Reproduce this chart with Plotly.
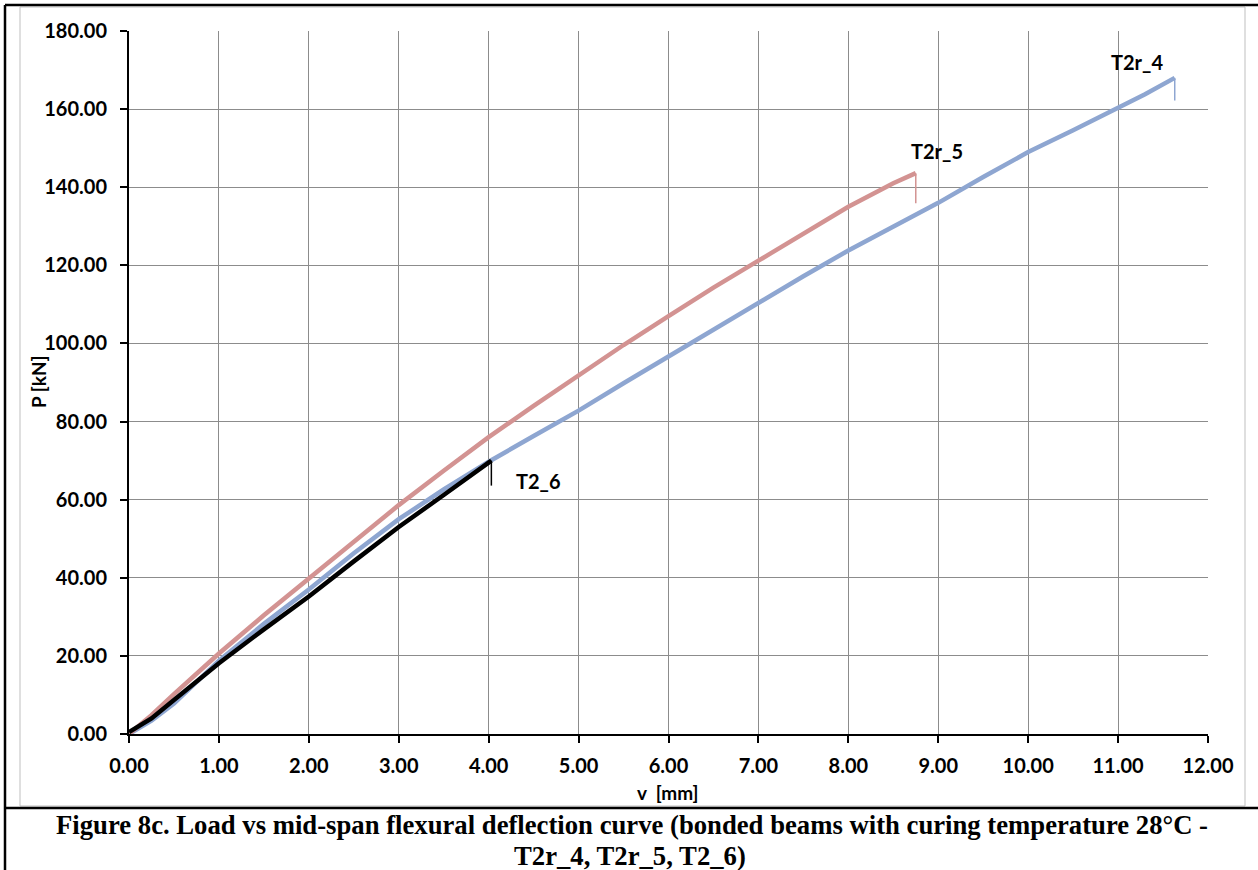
import plotly.graph_objects as go

# Mid-span deflection v [mm] and load P [kN] for the three bonded beams
v_t2r4 = [0.0, 0.25, 0.5, 0.75, 1.0, 1.5, 2.0, 2.5, 3.0, 3.5, 4.0, 4.5, 5.0, 5.5,
          6.0, 6.5, 7.0, 7.5, 8.0, 8.5, 9.0, 9.5, 10.0, 10.5, 11.0, 11.3, 11.63]
p_t2r4 = [0.0, 3.4, 7.8, 13.2, 18.8, 28.2, 37.0, 46.3, 55.0, 62.6, 69.7, 76.3, 82.8, 89.8,
          96.7, 103.6, 110.4, 117.2, 123.8, 130.0, 136.0, 142.6, 149.0, 154.6, 160.2, 163.8, 168.0]

v_t2r5 = [0.0, 0.25, 0.5, 0.75, 1.0, 1.5, 2.0, 2.5, 3.0, 3.5, 4.0, 4.5, 5.0, 5.5,
          6.0, 6.5, 7.0, 7.5, 8.0, 8.5, 8.75]
p_t2r5 = [0.0, 4.8, 10.2, 15.5, 20.6, 30.4, 39.8, 49.4, 58.6, 67.4, 76.0, 84.0, 91.8, 99.6,
          107.0, 114.3, 121.2, 128.2, 135.0, 141.0, 143.6]

v_t26 = [0.0, 0.25, 0.5, 0.75, 1.0, 1.5, 2.0, 2.5, 3.0, 3.5, 4.03]
p_t26 = [0.5, 4.0, 8.7, 13.4, 18.1, 26.8, 35.2, 44.2, 53.0, 61.2, 70.0]

# Load drop recorded at failure (last deflection, peak load -> residual load)
drop_v = {"T2r_4": 11.63, "T2r_5": 8.75, "T2_6": 4.03}
drop_p = {"T2r_4": [168.0, 162.2], "T2r_5": [143.6, 135.9], "T2_6": [70.0, 63.6]}

# Curve labels placed beside the failure points
label_text = ["T2r_4", "T2r_5", "T2_6"]
label_v = [11.21, 8.99, 4.55]
label_p = [172.0, 149.2, 64.7]

x_ticks = [0, 1, 2, 3, 4, 5, 6, 7, 8, 9, 10, 11, 12]
y_ticks = [0, 20, 40, 60, 80, 100, 120, 140, 160, 180]

BLUE = "#8EA6D1"
RED = "#D39392"
BLACK = "#000000"

W, H = 1258, 870
ML, MR, MT, MB = 129, 50, 31, 136
PW, PH = W - ML - MR, H - MT - MB


def px(x):
    return (x - ML) / PW


def py(y):
    return (H - MB - y) / PH


SANS = "Lato"
SERIF = "Liberation Serif"

fig = go.Figure()

series = [
    ("T2r_4", v_t2r4, p_t2r4, BLUE),
    ("T2r_5", v_t2r5, p_t2r5, RED),
    ("T2_6", v_t26, p_t26, BLACK),
]
for name, xs, ys, col in series:
    fig.add_trace(go.Scatter(x=xs, y=ys, mode="lines", name=name,
                             line=dict(color=col, width=4.5), showlegend=False))
    fig.add_trace(go.Scatter(x=[drop_v[name]] * 2, y=drop_p[name], mode="lines",
                             line=dict(color=col, width=1.5), showlegend=False))

for t, xv, yv in zip(label_text, label_v, label_p):
    fig.add_annotation(x=xv, y=yv, text=t, showarrow=False,
                       xanchor="center", yanchor="middle",
                       font=dict(family=SANS, size=20, color="black", weight="bold"))


def paper_text(x, y, text, font, angle=0):
    fig.add_annotation(xref="paper", yref="paper", x=px(x), y=py(y), text=text,
                       textangle=angle, showarrow=False,
                       xanchor="center", yanchor="middle", font=font)


# Axis titles
title_font = dict(family=SANS, size=19, color="black", weight="bold")
paper_text(38, 382, "P [kN]", title_font, angle=-90)
paper_text(668, 792, "v  [mm]", title_font)

# Figure caption
cap_font = dict(family=SERIF, size=26.7, color="black", weight="bold")
paper_text(632, 825, ("Figure 8c. Load vs mid-span flexural deflection curve (bonded beams "
                      "with curing temperature 28°C -"), cap_font)
paper_text(630, 856, "T2r_4, T2r_5, T2_6)", cap_font)

# Chart-area frame and caption box
fig.add_shape(type="rect", xref="paper", yref="paper",
              x0=px(20), x1=px(1245), y0=py(806), y1=py(7),
              line=dict(color="#BFBFBF", width=1), layer="below")
for x0, y0, x1, y1 in [(5, 5, 1262, 5), (5, 5, 5, 875), (5, 808, 1262, 808)]:
    fig.add_shape(type="line", xref="paper", yref="paper",
                  x0=px(x0), y0=py(y0), x1=px(x1), y1=py(y1),
                  line=dict(color="black", width=2.5))

axis_common = dict(
    showgrid=True, gridcolor="#8C8C8C", gridwidth=1,
    showline=True, linecolor="black", linewidth=2,
    ticks="outside", ticklen=7, tickwidth=2, tickcolor="black",
    zeroline=False,
    tickfont=dict(family=SANS, size=20, color="black", weight="bold"),
)

fig.update_xaxes(range=[0, 12], tickvals=x_ticks,
                 ticktext=[f"{t:.2f}" for t in x_ticks], ticklabelstandoff=6,
                 **axis_common)
fig.update_yaxes(range=[0, 180], tickvals=y_ticks,
                 ticktext=[f"{t:.2f}" for t in y_ticks], ticklabelstandoff=9,
                 **axis_common)

fig.update_layout(
    width=W, height=H,
    margin=dict(l=ML, r=MR, t=MT, b=MB),
    paper_bgcolor="white", plot_bgcolor="white",
)

fig.write_html("out.html")
